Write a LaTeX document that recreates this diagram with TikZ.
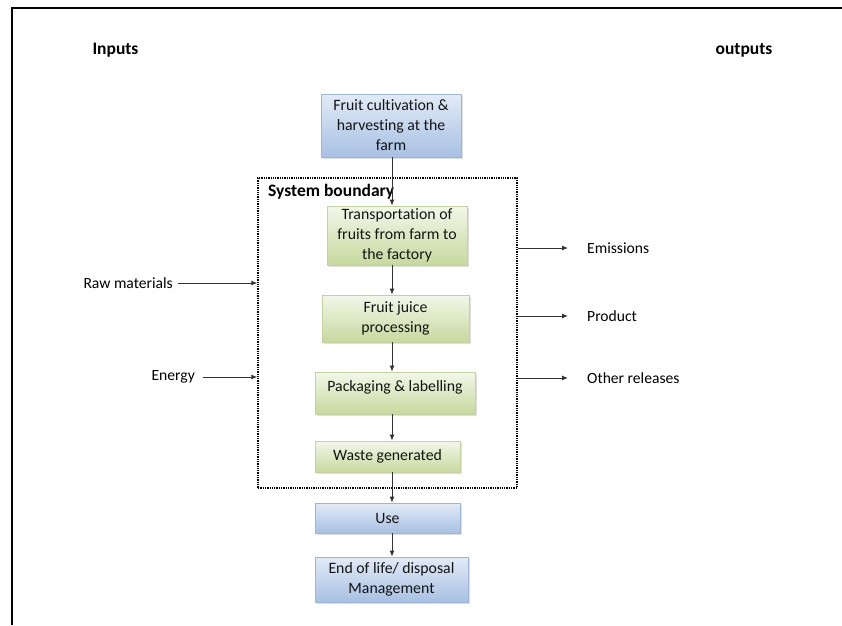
\documentclass[tikz,border=0pt]{standalone}
\usepackage{fontspec}
\setmainfont{Carlito}[Ligatures=NoCommon]
\usetikzlibrary{arrows.meta,shadows}
\definecolor{bluetop}{HTML}{E2EBF7}
\definecolor{bluebot}{HTML}{A7C0E2}
\definecolor{blueline}{HTML}{9DB5D6}
\definecolor{greentop}{HTML}{F3F7EA}
\definecolor{greenbot}{HTML}{C6D99D}
\definecolor{greenline}{HTML}{C2D3A0}
\definecolor{arr}{HTML}{333333}
\tikzset{
  box/.style={rectangle, draw, line width=0.8pt, align=center, inner sep=0pt,
    font=\fontsize{15.8}{20}\selectfont, text=black!92,
    drop shadow={opacity=0.25, shadow xshift=1.5pt, shadow yshift=-2pt}},
  bluebox/.style={box, draw=blueline, top color=bluetop, bottom color=bluebot},
  greenbox/.style={box, draw=greenline, top color=greentop, bottom color=greenbot},
  lbl/.style={inner sep=0pt, font=\fontsize{15.6}{20}\selectfont},
  head/.style={inner sep=0pt, font=\fontsize{17.5}{21}\selectfont\bfseries},
  flow/.style={draw=arr, line width=1pt, -{Latex[length=6pt,width=5pt]}},
  boundary/.style={draw, line width=1.3pt, densely dotted, inner sep=0pt}
}
\begin{document}
\begin{tikzpicture}[x=1pt,y=-1pt]
\useasboundingbox (0,0) rectangle (842,625);
% frame
\draw[line width=1.2pt] (842,8) -- (12,8) -- (12,625);

\node[head] (inputs) at (115.5,50) {Inputs};
\node[head] (outputs) at (744,50) {outputs};

\node[boundary, minimum width=259pt, minimum height=310pt] (sb) at (387.5,333) {};
\node[head, anchor=west] (sbl) at (268,192) {System boundary};

\node[bluebox, minimum width=140pt, minimum height=63pt] (b1) at (391,125.5)
  {Fruit cultivation \&\\harvesting at the\\farm};
\node[greenbox, minimum width=140pt, minimum height=59pt] (b2) at (397,235.5)
  {Transportation of\\fruits from farm to\\the factory};
\node[greenbox, minimum width=147pt, minimum height=47pt] (b3) at (395.5,318.5)
  {Fruit juice\\processing};
\node[greenbox, minimum width=160pt, minimum height=42pt] (b4) at (395,393)
  {\raisebox{0pt}[\height][\dimexpr\depth+12pt\relax]{Packaging \& labelling}};
\node[greenbox, minimum width=145pt, minimum height=31pt] (b5) at (387.5,456.5)
  {Waste generated};
\node[bluebox, minimum width=145pt, minimum height=30pt] (b6) at (387.5,518)
  {Use};
\node[bluebox, minimum width=153pt, minimum height=45pt] (b7) at (391.5,579.5)
  {End of life/ disposal\\Management};

\coordinate (ax) at (392,0);
\draw[flow] (b1.south -| ax) -- (b2.north -| ax);
\draw[flow] (b2.south -| ax) -- (b3.north -| ax);
\draw[flow] (b3.south -| ax) -- (b4.north -| ax);
\draw[flow] (b4.south -| ax) -- (b5.north -| ax);
\draw[flow] (b5.south -| ax) -- (b6.north -| ax);
\draw[flow] (b6.south -| ax) -- (b7.north -| ax);

% inputs
\node[lbl, anchor=east] (raw) at (173,283) {Raw materials};
\node[lbl, anchor=east] (energy) at (195,377) {Energy};
\draw[flow] ([xshift=5pt]raw.east) -- (raw -| sb.west);
\draw[flow] ([xshift=8pt]energy.east) -- (energy -| sb.west);

% outputs
\node[lbl, anchor=west] (em) at (587,248) {Emissions};
\node[lbl, anchor=west] (prod) at (587,316) {Product};
\node[lbl, anchor=west] (oth) at (587,378) {Other releases};
\draw[flow] (em -| sb.east) -- ([xshift=-19pt]em.west);
\draw[flow] (prod -| sb.east) -- ([xshift=-19pt]prod.west);
\draw[flow] (oth -| sb.east) -- ([xshift=-19pt]oth.west);
\end{tikzpicture}
\end{document}
